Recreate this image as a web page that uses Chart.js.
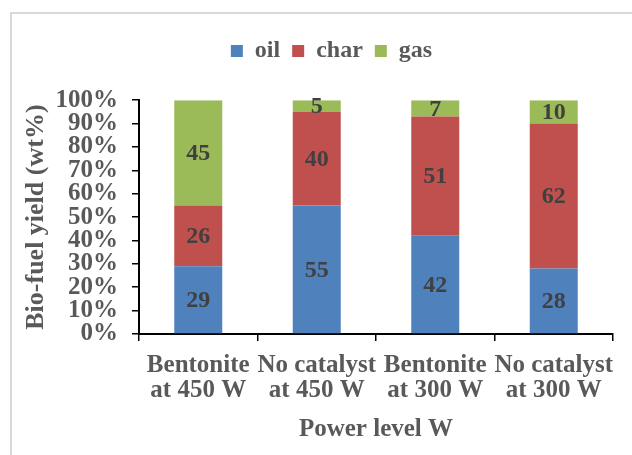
<!DOCTYPE html>
<html>
<head>
<meta charset="utf-8">
<script src="https://cdn.jsdelivr.net/npm/chart.js@4"></script>
<style>
  html, body { margin: 0; padding: 0; background: #fff; }
  #wrap { position: relative; width: 632px; height: 455px; overflow: hidden; }
  #frame { position: absolute; left: 10px; top: 12px; width: 700px; height: 500px;
           border-left: 2px solid #d9d9d9; border-top: 2px solid #d9d9d9; }
  #chart { position: absolute; left: 0; top: 0; }
</style>
</head>
<body>
<div id="wrap">
  <div id="frame"></div>
  <canvas id="chart" width="632" height="455"></canvas>
</div>
<script>
// data
const categories = [
  ["Bentonite", "at 450 W"],
  ["No catalyst", "at 450 W"],
  ["Bentonite", "at 300 W"],
  ["No catalyst", "at 300 W"],
];
const oilValues = [29, 55, 42, 28];
const charValues = [26, 40, 51, 62];
const gasValues = [45, 5, 7, 10];
const seriesNames = ["oil", "char", "gas"];

const FONT = '"Liberation Serif", "Times New Roman", serif';

// labels in the middle of each segment
const segmentLabels = {
  id: "segmentLabels",
  afterDatasetsDraw(chart) {
    const ctx = chart.ctx;
    ctx.save();
    ctx.font = "bold 24px " + FONT;
    ctx.fillStyle = "#404040";
    ctx.textAlign = "center";
    ctx.textBaseline = "middle";
    chart.data.datasets.forEach((ds, i) => {
      const meta = chart.getDatasetMeta(i);
      meta.data.forEach((bar, j) => {
        const y = (bar.y + bar.base) / 2;
        ctx.fillText(String(ds.data[j]), bar.x, y + 1);
      });
    });
    ctx.restore();
  },
};

new Chart(document.getElementById("chart").getContext("2d"), {
  type: "bar",
  data: {
    labels: categories,
    datasets: [
      { label: seriesNames[0], data: oilValues, backgroundColor: "#4F81BD" },
      { label: seriesNames[1], data: charValues, backgroundColor: "#C0504D" },
      { label: seriesNames[2], data: gasValues, backgroundColor: "#9BBB59" },
    ],
  },
  options: {
    responsive: false,
    animation: false,
    layout: { padding: { left: 50, right: 19, top: 27, bottom: 0 } },
    datasets: { bar: { categoryPercentage: 1, barPercentage: 0.405 } },
    plugins: {
      legend: {
        position: "top",
        labels: {
          boxWidth: 12,
          boxHeight: 12,
          padding: 12,
          color: "#595959",
          font: { family: FONT, size: 24, weight: "bold" },
        },
      },
      // empty spacer between legend and plot
      title: {
        display: true,
        text: "",
        weight: 500,
        font: { size: 1 },
        padding: { top: 0, bottom: 26 },
      },
      tooltip: { enabled: false },
    },
    scales: {
      x: {
        stacked: true,
        grid: { drawOnChartArea: false, drawTicks: true, tickLength: 7, color: "#000", lineWidth: 1.5 },
        border: { display: true, color: "#000", width: 2 },
        ticks: {
          color: "#595959",
          padding: 12,
          maxRotation: 0,
          autoSkip: false,
          font: { family: FONT, size: 25, weight: "bold", lineHeight: 1 },
        },
        title: {
          display: true,
          text: "Power level W",
          color: "#595959",
          padding: { top: 0, bottom: 10 },
          font: { family: FONT, size: 25, weight: "bold" },
        },
        afterFit(scale) { scale.height = 121; },
      },
      y: {
        stacked: true,
        min: 0,
        max: 100,
        grid: { drawOnChartArea: false, drawTicks: true, tickLength: 7, color: "#000", lineWidth: 1.5 },
        border: { display: true, color: "#000", width: 2 },
        ticks: {
          stepSize: 10,
          autoSkip: false,
          padding: 14,
          color: "#595959",
          font: { family: FONT, size: 25, weight: "bold" },
          callback: (v) => v + "%",
        },
        title: {
          display: true,
          text: "Bio-fuel yield (wt%)",
          color: "#595959",
          padding: { top: -29, bottom: 0 },
          font: { family: FONT, size: 26, weight: "bold" },
        },
        afterFit(scale) { scale.width = 89; },
      },
    },
  },
  plugins: [segmentLabels],
});
</script>
</body>
</html>
